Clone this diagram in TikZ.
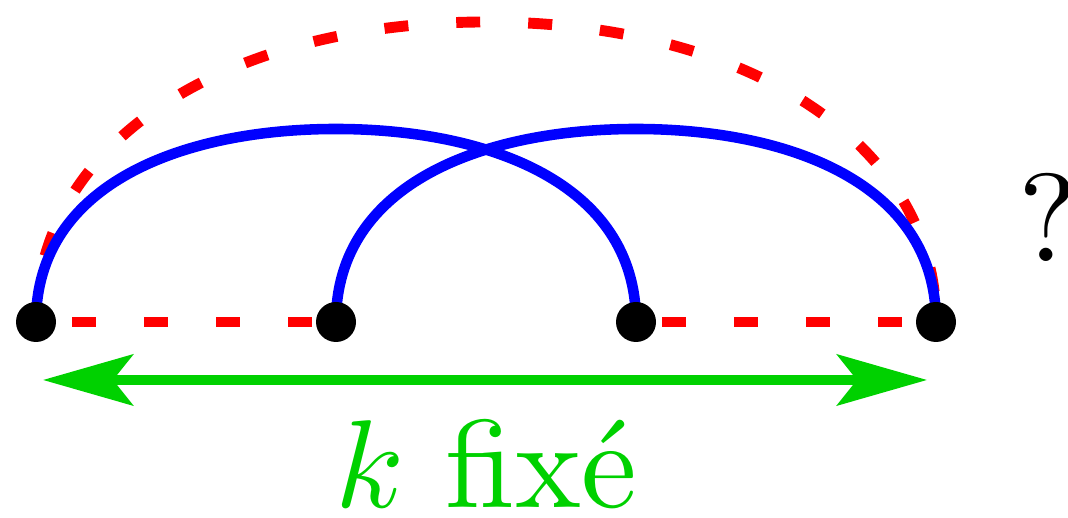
\documentclass[tikz,border=0pt]{standalone}
\usepackage{fix-cm}
\usepackage{fontspec}
\newfontfamily\lmdix{lmroman10-regular.otf}
\DeclareFontShape{OML}{cmm}{m}{it}{<->cmmi10}{\skewchar\font'177}
\usetikzlibrary{arrows.meta}
\pgfdeclarelayer{back}
\pgfsetlayers{back,main}
\begin{document}
\begin{tikzpicture}[
  sommet/.style={circle,fill=black,inner sep=0pt,minimum size=.4cm},
  bleu/.style={blue,line width=3pt},
  rouge/.style={red,line width=3.1pt,dash pattern=on .24cm off .48cm},
  fleche/.style={green!82!black,line width=2.65pt,{Stealth[length=.9cm,width=.51cm,inset=.2cm]}-{Stealth[length=.9cm,width=.51cm,inset=.2cm]}},
  grand/.style={font=\lmdix\fontsize{35.6}{42}\selectfont,anchor=base,inner sep=0pt}
]
\useasboundingbox (0,0) rectangle (10.68,5.18);
\node[sommet] (a) at (.36,1.96) {};
\node[sommet] (b) at (3.36,1.96) {};
\node[sommet] (c) at (6.36,1.96) {};
\node[sommet] (d) at (9.36,1.96) {};
\coordinate (h1) at (3.36,3.89);
\coordinate (h2) at (6.36,3.89);
\coordinate (h3) at (4.86,4.96);
\coordinate (g1) at (.43,1.38);
\coordinate (g2) at (9.27,1.38);
\begin{pgfonlayer}{back}
% chemins en pointilles
\draw[rouge,dash phase=.36cm] (a.center) -- (b.center);
\draw[rouge,dash phase=.46cm] (c.center) -- (d.center);
\draw[rouge,dash phase=.05cm] (a.center) .. controls +(0,1.8) and +(-2.6,0) .. (h3)
  .. controls +(2.6,0) and +(0,1.8) .. (d.center);
% arcs
\draw[bleu] (a.center) .. controls +(0,1.4) and +(-1.5,0) .. (h1)
  .. controls +(1.5,0) and +(0,1.4) .. (c.center);
\draw[bleu] (b.center) .. controls +(0,1.4) and +(-1.5,0) .. (h2)
  .. controls +(1.5,0) and +(0,1.4) .. (d.center);
\end{pgfonlayer}
\draw[fleche] (g1) -- (g2);
\node[grand,text=green!82!black] (k) at (4.86,.10) {$k$ fixé};
\node[grand] (q) at (10.48,2.56) {?};
\end{tikzpicture}
\end{document}
